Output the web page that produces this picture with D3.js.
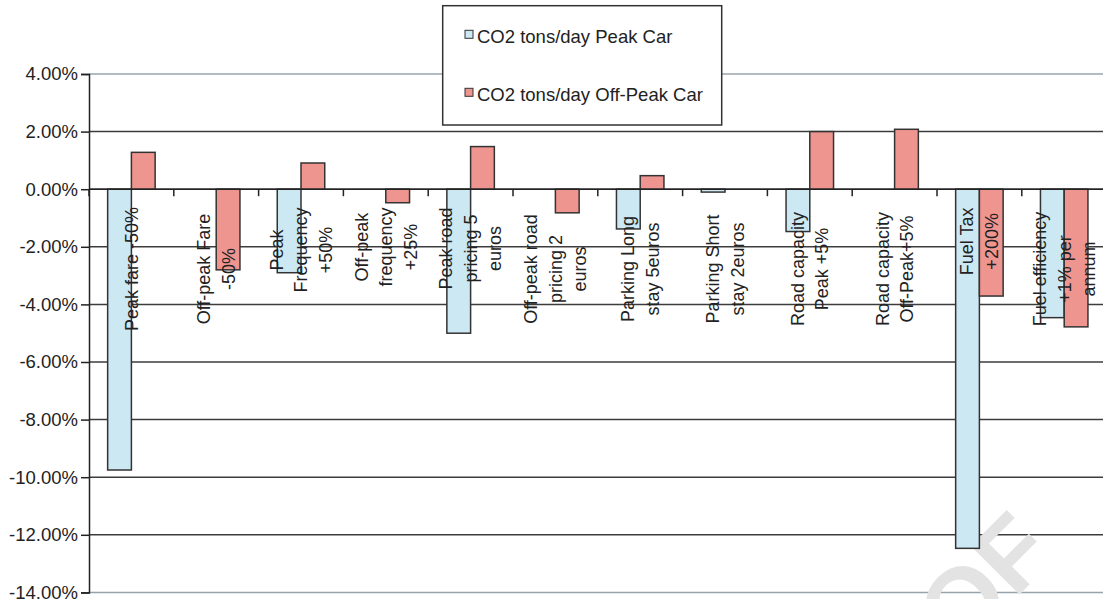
<!DOCTYPE html>
<html>
<head>
<meta charset="utf-8">
<script src="https://cdn.jsdelivr.net/npm/d3@7"></script>
<style>
  html, body { margin: 0; padding: 0; background: #fff; }
  svg { display: block; font-family: "Liberation Sans", Arial, sans-serif; }
</style>
</head>
<body>
<svg id="chart" width="1103" height="599"></svg>
<script>
// Category labels (one entry per wrapped line)
const categories = [
  ["Peak fare -50%"],
  ["Off-peak Fare", "-50%"],
  ["Peak", "Frequency", "+50%"],
  ["Off-peak", "frequency", "+25%"],
  ["Peak road", "pricing 5", "euros"],
  ["Off-peak road", "pricing 2", "euros"],
  ["Parking Long", "stay 5euros"],
  ["Parking Short", "stay 2euros"],
  ["Road capacity", "Peak +5%"],
  ["Road capacity", "Off-Peak+5%"],
  ["Fuel Tax", "+200%"],
  ["Fuel efficiency", "+1% per", "annum"]
];

// Change in CO2 tons/day (%)
const peakCar    = [-9.75, 0, -2.9, 0, -5.0, 0, -1.38, -0.1, -1.47, 0, -12.47, -4.46];
const offPeakCar = [1.28, -2.8, 0.91, -0.47, 1.48, -0.82, 0.47, 0, 2.0, 2.08, -3.71, -4.78];

const seriesNames = ["CO2 tons/day Peak Car", "CO2 tons/day Off-Peak Car"];
const seriesColors = ["#cce8f3", "#ef9590"];

const yTicks = [4, 2, 0, -2, -4, -6, -8, -10, -12, -14];

const svg = d3.select("#chart");

const plotLeft = 89, plotRight = 89 + 84.8 * 12, plotTop = 74, plotBottom = 592.4;

const x0 = d3.scaleBand()
  .domain(d3.range(categories.length))
  .range([plotLeft, plotRight])
  .paddingInner(0.44)
  .paddingOuter(0.22);

const x1 = d3.scaleBand()
  .domain([0, 1])
  .range([0, x0.bandwidth()]);

const y = d3.scaleLinear().domain([-14, 4]).range([plotBottom, plotTop]);

const step = x0.step();

// Horizontal gridlines
svg.append("g")
  .selectAll("line")
  .data(yTicks)
  .join("line")
  .attr("x1", plotLeft).attr("x2", plotRight)
  .attr("y1", d => y(d)).attr("y2", d => y(d))
  .attr("stroke", d => (d === 4 || d === -14) ? "#98a4ac" : "#3c3c3c")
  .attr("stroke-width", 1.5);

// Watermark
svg.append("text")
  .attr("transform", "translate(1058,556) rotate(-45)")
  .attr("text-anchor", "end")
  .attr("font-size", 100)
  .attr("font-weight", "bold")
  .attr("fill", "#e3e3e3")
  .text("PROOF");

// Bars
const rows = categories.map((c, i) => ({ i, vals: [peakCar[i], offPeakCar[i]] }));
const groups = svg.append("g")
  .selectAll("g")
  .data(rows)
  .join("g")
  .attr("transform", d => `translate(${x0(d.i)},0)`);

groups.selectAll("rect")
  .data(d => d.vals.map((v, s) => ({ v, s })).filter(e => e.v !== 0))
  .join("rect")
  .attr("x", d => x1(d.s))
  .attr("width", x1.bandwidth())
  .attr("y", d => y(Math.max(0, d.v)))
  .attr("height", d => Math.abs(y(d.v) - y(0)))
  .attr("fill", d => seriesColors[d.s])
  .attr("stroke", "#333")
  .attr("stroke-width", 1.5);

// Y axis
const yAxis = d3.axisLeft(y)
  .tickValues(yTicks)
  .tickSize(8)
  .tickFormat(d => d.toFixed(2) + "%");
const ya = svg.append("g")
  .attr("transform", `translate(${plotLeft},0)`)
  .call(yAxis);
ya.select(".domain").attr("stroke", "#222").attr("stroke-width", 1.5);
ya.selectAll(".tick line").attr("stroke", "#222").attr("stroke-width", 1.5);
ya.selectAll(".tick text")
  .attr("x", -11)
  .attr("font-size", 18.5)
  .attr("font-family", "Liberation Sans, Arial, sans-serif")
  .attr("fill", "#222");

// Category axis along zero line
svg.append("line")
  .attr("x1", plotLeft).attr("x2", plotRight)
  .attr("y1", y(0)).attr("y2", y(0))
  .attr("stroke", "#222").attr("stroke-width", 1.5);
svg.append("g")
  .selectAll("line")
  .data(d3.range(categories.length + 1))
  .join("line")
  .attr("x1", k => plotLeft + k * step).attr("x2", k => plotLeft + k * step)
  .attr("y1", y(0)).attr("y2", y(0) + 7)
  .attr("stroke", "#222").attr("stroke-width", 1.5);

// Rotated, wrapped category labels
const lineGap = 24.5;
const labelG = svg.append("g");
categories.forEach((lines, i) => {
  const cx = x0(i) + x0.bandwidth() / 2;
  const t = labelG.append("text")
    .attr("font-size", 18)
    .attr("fill", "#222")
    .attr("text-anchor", "middle");
  lines.forEach((ln, j) => {
    t.append("tspan")
      .attr("x", 0)
      .attr("y", (j - (lines.length - 1) / 2) * lineGap)
      .attr("dy", "0.35em")
      .text(ln);
  });
  const maxW = d3.max(t.selectAll("tspan").nodes(), n => n.getComputedTextLength());
  const cy = maxW > 100 ? 269 : 207.5 + maxW / 2;
  t.attr("transform", `translate(${cx},${cy}) rotate(-90)`);
});

// Legend
const lg = svg.append("g");
lg.append("rect")
  .attr("x", 442.7).attr("y", 5.7)
  .attr("width", 279).attr("height", 119.3)
  .attr("fill", "#fff").attr("stroke", "#333").attr("stroke-width", 1.5);
seriesNames.forEach((name, s) => {
  const yy = s === 0 ? 43.3 : 101.3;
  lg.append("rect")
    .attr("x", 465).attr("y", yy - 13)
    .attr("width", 8).attr("height", 8)
    .attr("fill", seriesColors[s]).attr("stroke", "#333").attr("stroke-width", 1);
  lg.append("text")
    .attr("x", 477).attr("y", yy)
    .attr("font-size", 18.5)
    .attr("fill", "#222")
    .text(name);
});
</script>
</body>
</html>
